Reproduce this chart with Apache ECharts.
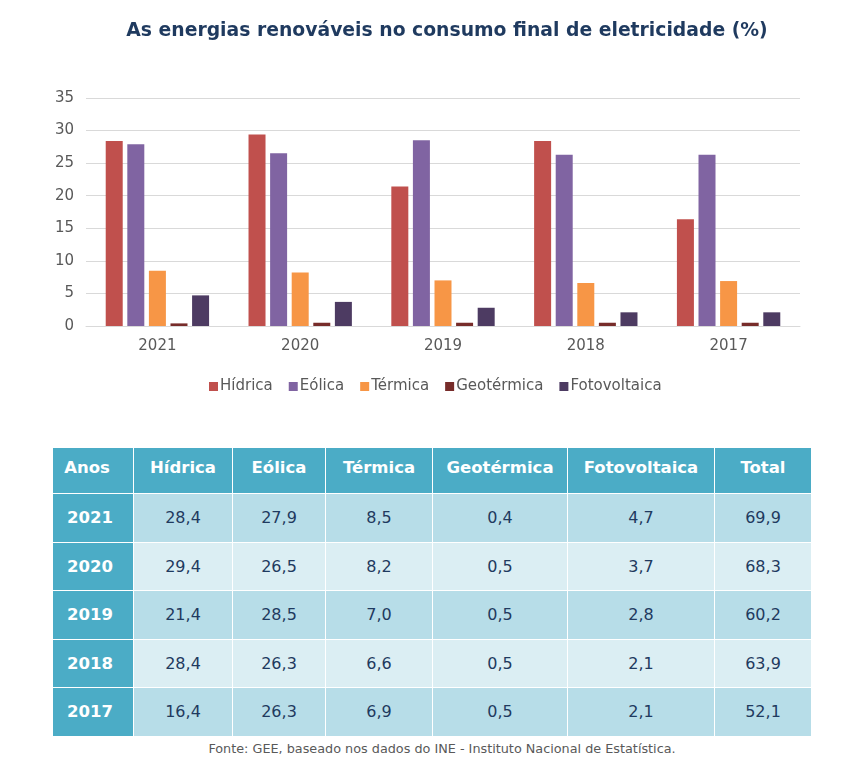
<!DOCTYPE html>
<html lang="pt">

<head>
    <meta charset="UTF-8">
    <title>Energias renováveis</title>
    <script src="https://cdn.jsdelivr.net/npm/echarts@6/dist/echarts.min.js"></script>
    <style>
        body {
            margin: 0;
            background: #fff;
            font-family: "DejaVu Sans", Verdana, sans-serif;
        }

        #chart {
            position: absolute;
            left: 0;
            top: 0;
            width: 855px;
            height: 420px;
        }

        #tabela {
            position: absolute;
            left: 52px;
            top: 447px;
            width: 759px;
            border-collapse: collapse;
            table-layout: fixed;
            font-size: 16px;
            color: #1f3a5f;
        }

        #tabela th,
        #tabela td {
            border: 1px solid #fff;
            text-align: center;
            padding: 0;
        }

        #tabela th {
            background: #4bacc6;
            color: #fff;
            height: 46px;
            font-size: 16.5px;
            font-weight: bold;
            padding-bottom: 6px;
            box-sizing: border-box;
        }

        #tabela td {
            height: 47.5px;
        }

        #tabela tr.escura td {
            background: #b7dde8;
        }

        #tabela tr.clara td {
            background: #dbeef3;
        }

        #tabela td.ano {
            background: #4bacc6 !important;
            color: #fff;
            font-size: 16.5px;
            font-weight: bold;
            padding-right: 6px;
        }

        #fonte {
            position: absolute;
            left: 0;
            width: 884px;
            top: 741px;
            text-align: center;
            font-size: 12.8px;
            color: #595959;
        }
    </style>
</head>

<body>
    <div id="chart"></div>
    <table id="tabela"></table>
    <div id="fonte">Fonte: GEE, baseado nos dados do INE - Instituto Nacional de Estatística.</div>
    <script>
        // dados
        var anos = ['2021', '2020', '2019', '2018', '2017'];
        var fontes = ['Hídrica', 'Eólica', 'Térmica', 'Geotérmica', 'Fotovoltaica'];
        var hidrica = [28.4, 29.4, 21.4, 28.4, 16.4];
        var eolica = [27.9, 26.5, 28.5, 26.3, 26.3];
        var termica = [8.5, 8.2, 7.0, 6.6, 6.9];
        var geotermica = [0.4, 0.5, 0.5, 0.5, 0.5];
        var fotovoltaica = [4.7, 3.7, 2.8, 2.1, 2.1];
        var total = [69.9, 68.3, 60.2, 63.9, 52.1];
        var yTicks = [0, 5, 10, 15, 20, 25, 30, 35];

        var valores = [hidrica, eolica, termica, geotermica, fotovoltaica];
        var cores = ['#c0504d', '#8064a2', '#f79646', '#772c2a', '#4d3b62'];

        var fmt = function (v) {
            return v.toFixed(1).replace('.', ',');
        };

        var series = fontes.map(function (nome, i) {
            return {
                name: nome,
                type: 'bar',
                data: valores[i],
                barWidth: 17,
                barGap: '27%',
                itemStyle: { color: cores[i] }
            };
        });

        var chart = echarts.init(document.getElementById('chart'));
        chart.setOption({
            animation: false,
            textStyle: { fontFamily: 'DejaVu Sans' },
            title: {
                text: 'As energias renováveis no consumo final de eletricidade (%)',
                left: 442,
                textAlign: 'center',
                top: 17,
                textStyle: {
                    fontSize: 18.8,
                    fontWeight: 'bold',
                    color: '#1f3a5f'
                }
            },
            legend: {
                data: fontes,
                top: 374,
                left: 204,
                itemWidth: 9,
                itemHeight: 9,
                itemGap: 16,
                icon: 'rect',
                textStyle: { fontSize: 15, color: '#595959', padding: [0, 0, 0, -3] }
            },
            grid: {
                left: 86,
                right: 55,
                top: 98,
                height: 228
            },
            xAxis: {
                type: 'category',
                data: anos,
                axisTick: { show: false },
                axisLine: { lineStyle: { color: '#d9d9d9', width: 1 } },
                axisLabel: { fontSize: 15, color: '#595959', margin: 13 }
            },
            yAxis: {
                type: 'value',
                min: yTicks[0],
                max: yTicks[yTicks.length - 1],
                interval: 5,
                axisLabel: { fontSize: 15, color: '#595959', margin: 12 },
                splitLine: { lineStyle: { color: '#d9d9d9', width: 1 } }
            },
            series: series
        });

        // tabela construída a partir dos mesmos dados
        var tabela = document.getElementById('tabela');
        var larguras = [81, 99, 93, 107, 135, 147, 97];
        var cab = ['Anos'].concat(fontes, ['Total']);
        var cg = '<colgroup>' + larguras.map(function (w) {
            return '<col style="width:' + w + 'px">';
        }).join('') + '</colgroup>';
        var html = cg + '<tr>' + cab.map(function (c, i) {
            var st = i === 0 ? ' style="padding-right:12px"' : '';
            return '<th' + st + '>' + c + '</th>';
        }).join('') + '</tr>';
        anos.forEach(function (ano, r) {
            var cls = r % 2 === 0 ? 'escura' : 'clara';
            var linha = '<tr class="' + cls + '"><td class="ano">' + ano + '</td>';
            valores.forEach(function (arr) {
                linha += '<td>' + fmt(arr[r]) + '</td>';
            });
            linha += '<td>' + fmt(total[r]) + '</td></tr>';
            html += linha;
        });
        tabela.innerHTML = html;
    </script>
</body>

</html>
